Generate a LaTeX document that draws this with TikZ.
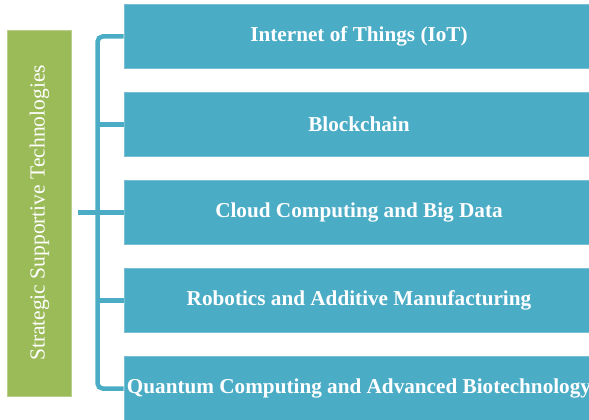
\documentclass[tikz,border=0pt]{standalone}
\usepackage{fontspec}
\setmainfont{Liberation Serif}
\usetikzlibrary{positioning}
\definecolor{techblue}{HTML}{4BACC6}
\definecolor{techgreen}{HTML}{9BBB59}
\tikzset{
	techbox/.style={
		rectangle,
		fill=techblue,
		draw=techblue!75!white,
		line width=0.8pt,
		minimum width=470pt,
		minimum height=64pt,
		inner sep=0pt,
		text=white,
		font=\bfseries\fontsize{21.2}{24}\selectfont,
		text centered,
	},
	groupbox/.style={
		rectangle,
		fill=techgreen,
		draw=techgreen!70!white,
		line width=0.8pt,
		minimum width=366pt,
		minimum height=64pt,
		inner sep=0pt,
		text=white,
		font=\fontsize{21.5}{24}\selectfont,
		rotate=90,
	},
	bracket/.style={
		draw=techblue,
		line width=4.5pt,
		rounded corners=5pt,
	},
}

\begin{document}
\begin{tikzpicture}[x=1pt,y=1pt]
	\useasboundingbox (0,0) rectangle (589,-420);
	
	\node[techbox] (IOT) at (359,-36.5)
	{Internet of Things (IoT)};
	
	\node[techbox,
	below=23.2pt of IOT] (CHAIN)
	{Blockchain};
	
	\node[techbox,
	below=23.2pt of CHAIN] (CLOUD)
	{Cloud Computing and Big Data};
	
	\node[techbox,
	below=23.2pt of CLOUD] (ROBOT)
	{Robotics and Additive Manufacturing};
	
	\node[techbox,
	below=23.2pt of ROBOT] (QUANT)
	{Quantum Computing and Advanced Biotechnology};
	
	\node[groupbox] (SST) at (39.5,-213)
	{Strategic Supportive Technologies};
	
	% bracket
	\draw[bracket] (IOT.west) -- ++(-26,0) |- (QUANT.west);
	\draw[bracket] (CHAIN.west) -- ++(-26,0);
	\draw[bracket] (ROBOT.west) -- ++(-26,0);
	\draw[bracket] (CLOUD.west) -- ([xshift=6pt]SST.south |- CLOUD.west);
	
\end{tikzpicture}
\end{document}
